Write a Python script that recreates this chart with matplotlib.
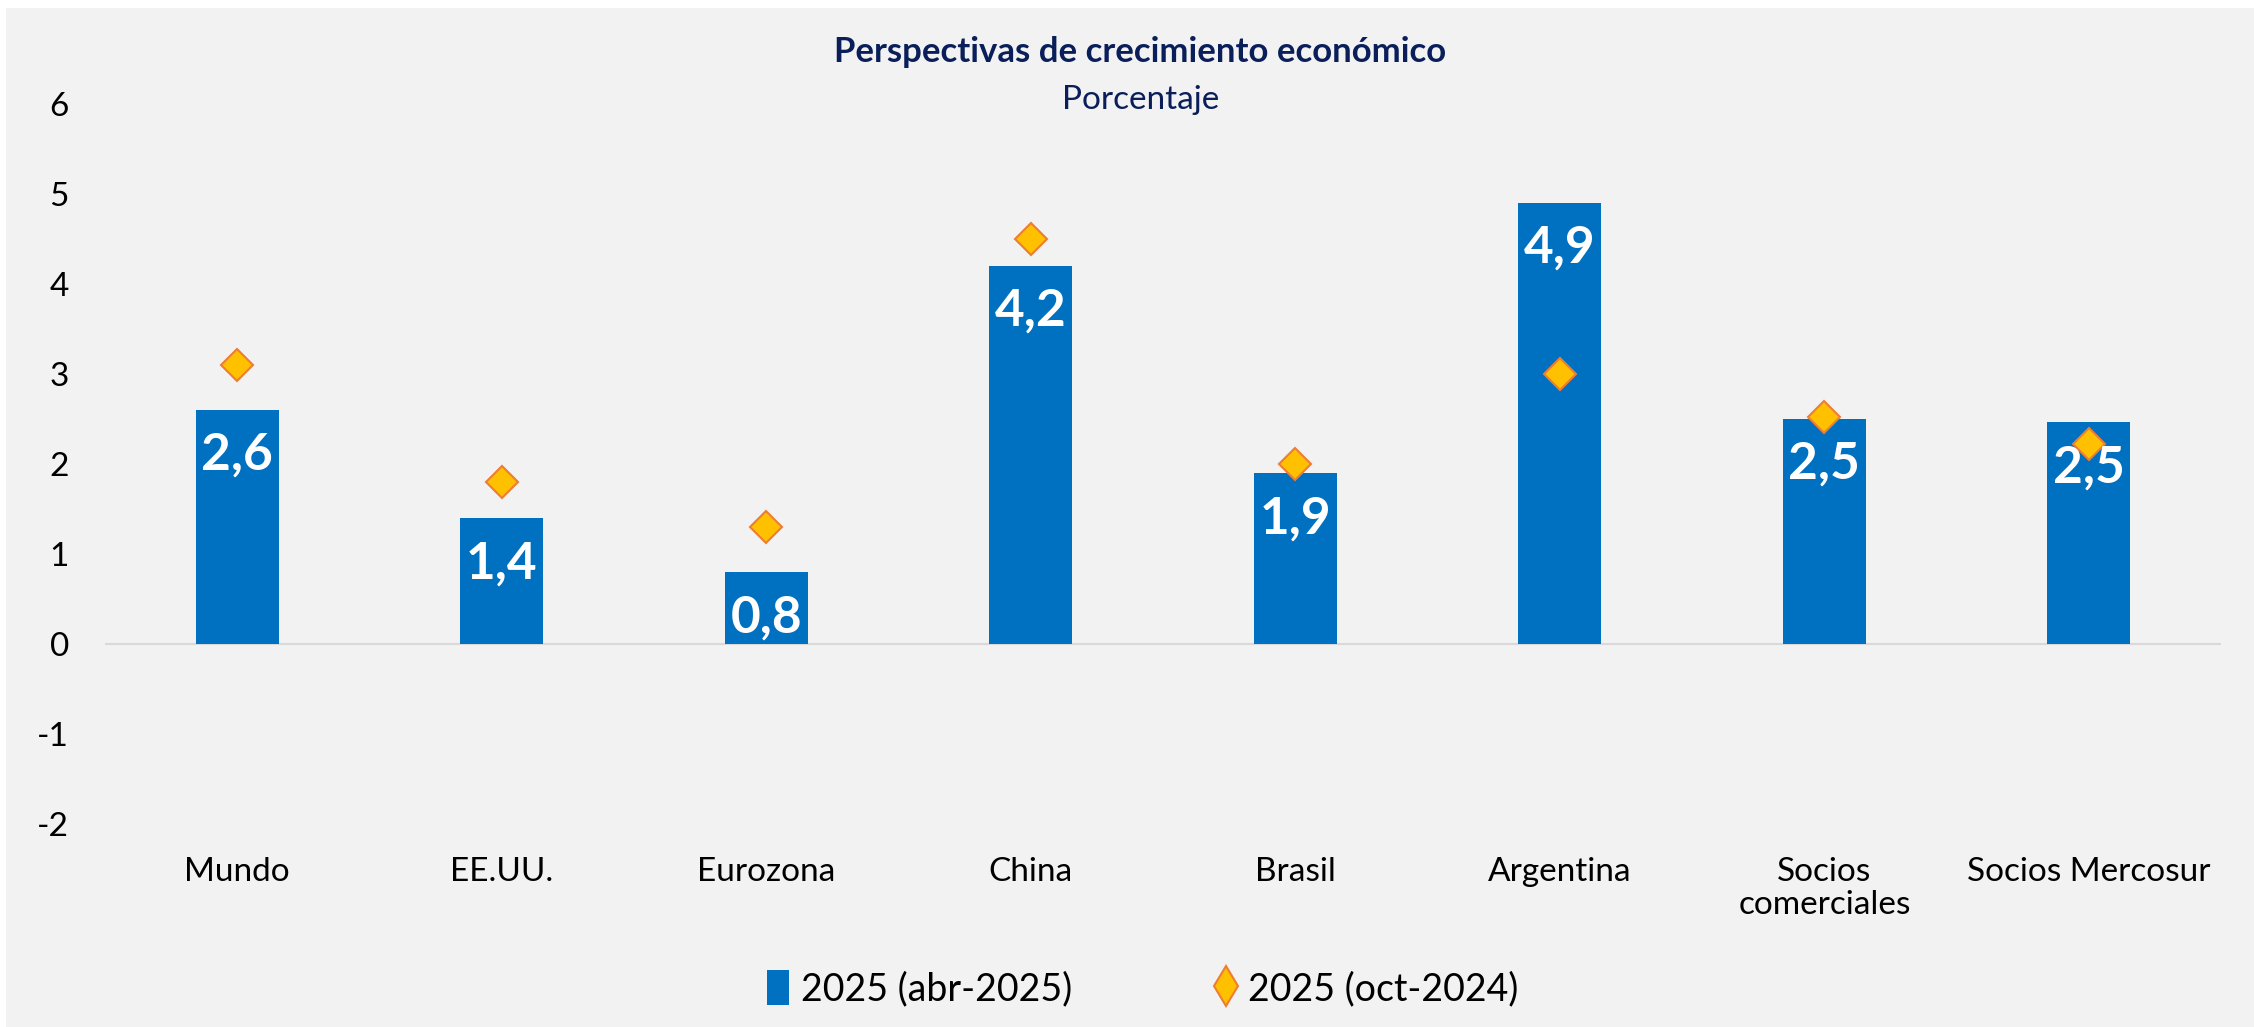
import numpy as np
import matplotlib.pyplot as plt
from matplotlib.lines import Line2D
from matplotlib.patches import Patch, Rectangle

plt.rcParams['font.family'] = ['Lato', 'DejaVu Sans']

categorias = ["Mundo", "EE.UU.", "Eurozona", "China", "Brasil", "Argentina",
              "Socios\ncomerciales", "Socios Mercosur"]
abr_2025 = [2.6, 1.4, 0.8, 4.2, 1.9, 4.9, 2.5, 2.46]
oct_2024 = [3.1, 1.8, 1.3, 4.5, 2.0, 3.0, 2.52, 2.22]
yticks = [-2, -1, 0, 1, 2, 3, 4, 5, 6]

azul = '#0070C0'
amarillo = '#FFC000'
naranja = '#ED7D31'
navy = '#0A1F5A'
fondo = '#F2F2F2'

fig = plt.figure(figsize=(22.54, 10.27), dpi=100, facecolor='white')
# thin white margin on the left and top, like the original export
fig.patches.append(Rectangle((6 / 2254, 0), 1, 1 - 8 / 1027, transform=fig.transFigure,
                             facecolor=fondo, edgecolor='none', zorder=-10))

ax = fig.add_axes([0.0466, 0.1977, 0.9388, 0.7015])
ax.set_facecolor(fondo)

x = np.arange(len(categorias))
ax.bar(x, abr_2025, width=0.315, color=azul, zorder=2)
ax.plot(x, oct_2024, linestyle='none', marker='D', markersize=16.8,
        markerfacecolor=amarillo, markeredgecolor=naranja, markeredgewidth=1.5, zorder=3)

for xi, v in zip(x, abr_2025):
    ax.annotate(f"{v:.1f}".replace('.', ','), (xi, v), xytext=(0, -33),
                textcoords='offset points', ha='center', va='center',
                color='white', fontsize=37, fontweight='bold', zorder=4)

ax.axhline(0, color='#D9D9D9', linewidth=1.5, zorder=1)
ax.set_xlim(-0.5, len(categorias) - 0.5)
ax.set_ylim(-2, 6)
ax.set_yticks(yticks)
ax.set_yticklabels([str(t) for t in yticks])
ax.set_xticks(x)
ax.set_xticklabels(categorias, linespacing=1.1)
ax.tick_params(axis='x', length=0, pad=24, labelsize=24)
ax.tick_params(axis='y', length=0, pad=26, labelsize=24)
for s in ax.spines.values():
    s.set_visible(False)

fig.text(0.506, 0.949, "Perspectivas de crecimiento económico", ha='center', va='center',
         fontsize=25, fontweight='bold', color=navy)
fig.text(0.506, 0.903, "Porcentaje", ha='center', va='center', fontsize=24, color=navy)

handles = [Patch(facecolor=azul, edgecolor='none'),
           Line2D([], [], linestyle='none', marker='d', markersize=20,
                  markerfacecolor=amarillo, markeredgecolor=naranja, markeredgewidth=1.5)]
fig.legend(handles, ["2025 (abr-2025)", "2025 (oct-2024)"], loc='center',
           bbox_to_anchor=(0.507, 0.037), ncol=2, frameon=False, fontsize=27,
           handlelength=0.6, handleheight=1.05, handletextpad=0.3, columnspacing=3.8)

fig.savefig('out.png', dpi=100, facecolor='white')
